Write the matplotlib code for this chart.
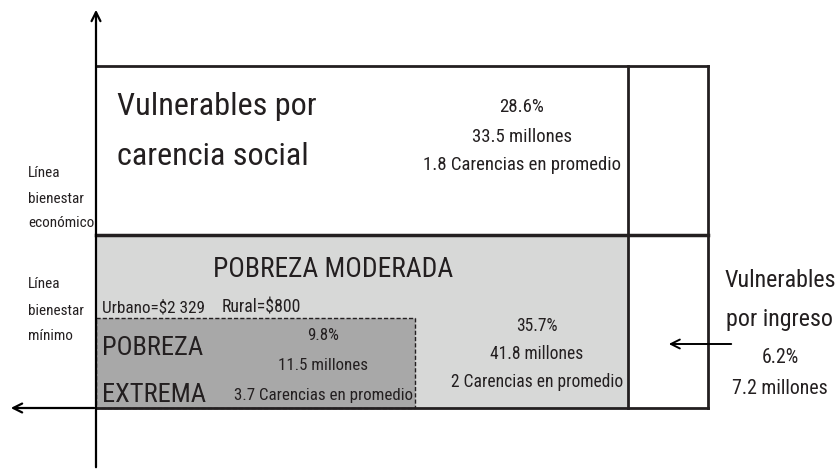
import matplotlib.pyplot as plt
from matplotlib import font_manager as fm
from matplotlib.patches import Rectangle

# datos del esquema (CONEVAL)
grupos = ['Vulnerables por\ncarencia social', 'POBREZA MODERADA', 'POBREZA\nEXTREMA', 'Vulnerables\npor ingreso']
porcentaje = [28.6, 35.7, 9.8, 6.2]
millones = [33.5, 41.8, 11.5, 7.2]
carencias = [1.8, 2, 3.7]
lineas = ['Línea\nbienestar\neconómico', 'Línea\nbienestar\nmínimo']
umbral = ['Urbano=$2 329', 'Rural=$800']

TXT = '#231f20'


def pick_font():
    fonts = fm.fontManager.ttflist
    names = {f.name for f in fonts}
    for n in ['Liberation Sans Narrow', 'Roboto Condensed', 'Open Sans Condensed',
              'Noto Sans Condensed', 'DejaVu Sans Condensed']:
        if n in names:
            return n, 'normal'
    for f in fonts:
        if f.stretch in ('condensed', 'semi-condensed', 'extra-condensed') and f.style == 'normal':
            return f.name, f.stretch
    return 'DejaVu Sans', 'normal'


FAMILY, STRETCH = pick_font()


def stats(i):
    s = ['%g%%' % porcentaje[i], '%g millones' % millones[i]]
    if i < len(carencias):
        s.append('%g Carencias en promedio' % carencias[i])
    return s


fig = plt.figure(figsize=(8.39, 4.72), dpi=100)
ax = fig.add_axes([0, 0, 1, 1])
ax.set_xlim(0, 839)
ax.set_ylim(472, 0)
ax.axis('off')
renderer = fig.canvas.get_renderer()


def block(x, ys, lines, width, size, ha='center'):
    # one text per line, font shrunk so the widest line fits the width
    ts = [ax.text(x, y, s, fontsize=size, family=[FAMILY, 'DejaVu Sans'], stretch=STRETCH,
                  color=TXT, ha=ha, va='baseline') for s, y in zip(lines, ys)]
    if width:
        w = max(t.get_window_extent(renderer).width for t in ts)
        size = min(size, size * width / w)
        for t in ts:
            t.set_fontsize(size)
    return size


# zonas sombreadas
ax.add_patch(Rectangle((96, 235), 532, 173, facecolor='#d7d8d7', edgecolor='none'))
ax.add_patch(Rectangle((96, 318), 319, 90, facecolor='#a8a8a8', edgecolor=TXT,
                       lw=1, linestyle=(0, (3, 1.5))))

# marco
ax.plot([96, 708], [66, 66], color=TXT, lw=2)
ax.plot([96, 708], [235, 235], color=TXT, lw=2.5)
ax.plot([96, 708], [408, 408], color=TXT, lw=2)
ax.plot([628, 628], [66, 408], color=TXT, lw=2)
ax.plot([708, 708], [66, 408], color=TXT, lw=2)

# ejes con flechas
arrow = dict(arrowstyle='->', color='black', lw=1.6, mutation_scale=16)
ax.annotate('', xy=(96, 7), xytext=(96, 470), arrowprops=arrow)
ax.annotate('', xy=(8, 408), xytext=(97, 408), arrowprops=arrow)
ax.annotate('', xy=(666, 344), xytext=(734, 344), arrowprops=dict(arrow, lw=1.4))

# textos
block(117, [115, 165], grupos[0].split('\n'), 200, 30, ha='left')
block(522, [112, 142, 170], stats(0), 198, 18)

block(333, [277], [grupos[1]], 240, 25)
block(102, [312], [umbral[0]], 104, 14, ha='left')
block(222, [312], [umbral[1]], 80, 14, ha='left')
block(537, [331, 359, 387], stats(1), 172, 18)

block(102, [355, 402], grupos[2].split('\n'), 104, 30, ha='left')
block(323, [340, 370, 400], stats(2), 178, 17)

block(780, [287, 326], grupos[3].split('\n'), 112, 24)
block(780, [363, 394], stats(3), 96, 17)

s = block(28, [177, 203, 227], lineas[0].split('\n'), 66, 12, ha='left')
block(28, [288, 315, 340], lineas[1].split('\n'), None, s, ha='left')

fig.savefig('out.png', dpi=100)
